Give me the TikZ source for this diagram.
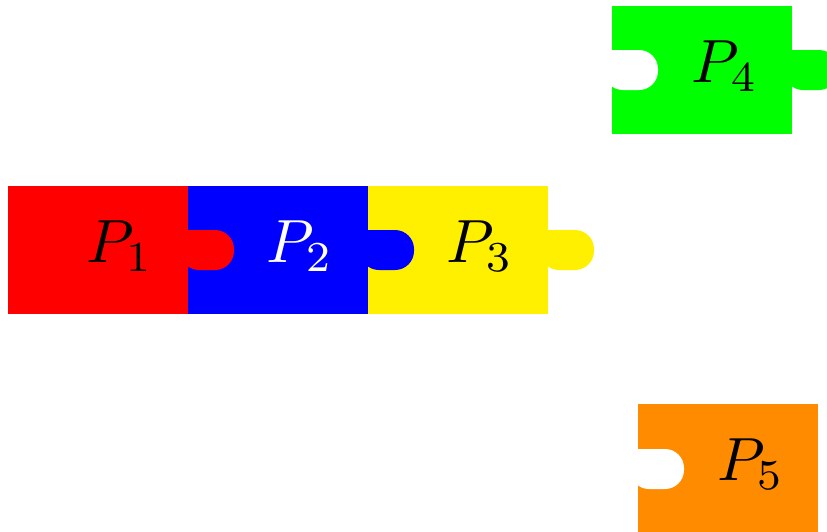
\documentclass[tikz,border=0pt]{standalone}
\usepackage{graphicx}
\definecolor{pyellow}{RGB}{255,240,0}
\definecolor{pgreen}{RGB}{0,255,0}
\definecolor{porange}{RGB}{255,140,0}
\newcommand{\bigP}[1]{\scalebox{6.1}{$P_{#1}$}}
\tikzset{
  piecelabel/.style={anchor=base, inner sep=0pt},
  tab/.style={rounded corners=19pt}
}
\begin{document}
\begin{tikzpicture}[x=1pt,y=-1pt]
\useasboundingbox (0,0) rectangle (827,531);
% P1
\fill[red] (8,186) rectangle (188,314);
% P2
\fill[blue] (188,186) rectangle (368,314);
% P3
\fill[pyellow] (368,186) rectangle (548,314);
% tabs
\fill[red,tab] (180,230) -- (234,230) -- (234,270) -- (180,270) [sharp corners] -- cycle;
\fill[blue,tab] (360,230) -- (414,230) -- (414,270) -- (360,270) [sharp corners] -- cycle;
\fill[pyellow,tab] (540,230) -- (594,230) -- (594,270) -- (540,270) [sharp corners] -- cycle;
% P4
\fill[pgreen] (612,6) rectangle (792,134);
\fill[white,tab] (604,50) -- (658,50) -- (658,90) -- (604,90) [sharp corners] -- cycle;
\fill[pgreen,tab] (784,50) -- (838,50) -- (838,90) -- (784,90) [sharp corners] -- cycle;
% P5
\fill[porange] (638,404) rectangle (818,532);
\fill[white,tab] (630,449) -- (684,449) -- (684,489) -- (630,489) [sharp corners] -- cycle;
% labels
\node[piecelabel] (l1) at (120,262) {\bigP{1}};
\node[piecelabel,text=white] (l2) at (300,262) {\bigP{2}};
\node[piecelabel] (l3) at (480,262) {\bigP{3}};
\node[piecelabel] (l4) at (725,82) {\bigP{4}};
\node[piecelabel] (l5) at (751,480) {\bigP{5}};
\end{tikzpicture}
\end{document}
